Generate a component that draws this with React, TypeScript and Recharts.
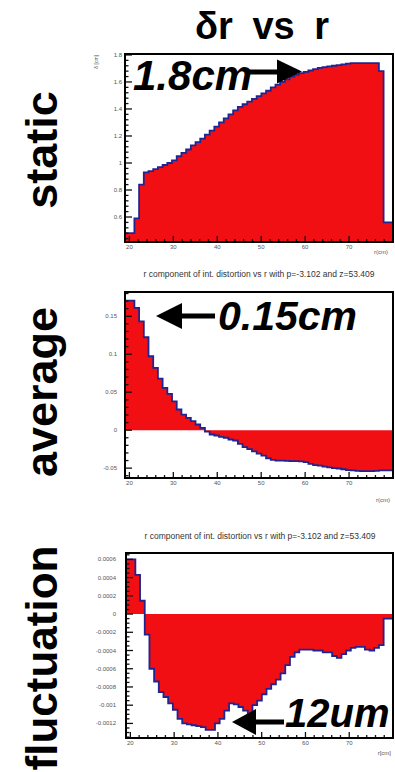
import React from "react";
import { ComposedChart, Area, XAxis, YAxis } from "recharts";

// histogram range (cm), 57 equal bins
const R_MIN = 19;
const R_MAX = 80;

const STATIC_DR = [
  0.48, 0.48, 0.59, 0.84, 0.93, 0.94, 0.955, 0.97, 0.985, 1.0,
  1.02, 1.05, 1.075, 1.1, 1.13, 1.155, 1.18, 1.21, 1.24, 1.27,
  1.3, 1.33, 1.36, 1.39, 1.415, 1.435, 1.455, 1.475, 1.495, 1.515,
  1.535, 1.56, 1.58, 1.6, 1.62, 1.64, 1.655, 1.665, 1.675, 1.685,
  1.695, 1.705, 1.71, 1.715, 1.72, 1.725, 1.73, 1.735, 1.74, 1.74,
  1.74, 1.74, 1.74, 1.74, 1.68, 0.56, 0.56,
];

const AVERAGE_DR = [
  0.1706, 0.1706, 0.161, 0.1434, 0.1224, 0.0974, 0.082, 0.068, 0.0557, 0.0478,
  0.038, 0.0272, 0.0206, 0.0162, 0.0118, 0.0075, 0.003, -0.002, -0.0057, -0.007,
  -0.0088, -0.01, -0.0123, -0.0136, -0.018, -0.0224, -0.025, -0.028, -0.031, -0.0335,
  -0.037, -0.039, -0.04, -0.0402, -0.0405, -0.0408, -0.0408, -0.041, -0.042, -0.0445,
  -0.046, -0.0468, -0.048, -0.049, -0.05, -0.0505, -0.0515, -0.0525, -0.053, -0.0535,
  -0.054, -0.054, -0.054, -0.0535, -0.053, -0.053, -0.053,
];

const FLUCT_DR = [
  0.0006, 0.0006, 0.00043, 0.000146, -0.000226, -0.0006, -0.00074, -0.000856, -0.00091, -0.00098,
  -0.00105, -0.00115, -0.0012, -0.00121, -0.00122, -0.00123, -0.00124, -0.00127, -0.00127, -0.0012,
  -0.00115, -0.00106, -0.00098, -0.00099, -0.00102, -0.00106, -0.0011, -0.001, -0.00095, -0.00088,
  -0.00082, -0.00077, -0.00072, -0.00065, -0.00056, -0.00047, -0.00042, -0.00039, -0.00039, -0.00039,
  -0.0004, -0.0004, -0.00042, -0.00042, -0.00046, -0.00048, -0.00044, -0.0004, -0.00037, -0.00036,
  -0.00036, -0.00039, -0.0004, -0.00037, -0.00034, -0.00005, -0.00005,
];

const R_TICKS = [20, 30, 40, 50, 60, 70];
const R_TICK_LABELS = ["20", "30", "40", "50", "60", "70"];

const STATIC_Y_TICKS = [0.6, 0.8, 1, 1.2, 1.4, 1.6, 1.8];
const STATIC_Y_LABELS = ["0.6", "0.8", "1", "1.2", "1.4", "1.6", "1.8"];
const AVERAGE_Y_TICKS = [-0.05, 0, 0.05, 0.1, 0.15];
const AVERAGE_Y_LABELS = ["-0.05", "0", "0.05", "0.1", "0.15"];
const FLUCT_Y_TICKS = [-0.0012, -0.001, -0.0008, -0.0006, -0.0004, -0.0002, 0, 0.0002, 0.0004, 0.0006];
const FLUCT_Y_LABELS = [
  "-0.0012", "-0.001", "-0.0008", "-0.0006", "-0.0004", "-0.0002", "0", "0.0002", "0.0004", "0.0006",
];

const PANEL_TITLE = "r component of int. distortion vs r with p=-3.102 and z=53.409";

const FONT = "'Liberation Sans', Arial, Helvetica, sans-serif";
const FILL = "#f20f14";
const LINE = "#1f248f";

// chart box shared by the three pads
const CHART_W = 395;
const CHART_H = 220;
const M_TOP = 10;
const M_RIGHT = 2;
const Y_AXIS_W = 40;
const X_AXIS_H = 20;
const FRAME_W = 2;

// pad placement: top of chart box, left margin, bottom margin
const PADS = [
  { top: 44, marginLeft: 85, marginBottom: 2 },
  { top: 282, marginLeft: 85, marginBottom: 4 },
  { top: 543, marginLeft: 86, marginBottom: 5 },
];

const plotBox = (p: { top: number; marginLeft: number; marginBottom: number }) => {
  const x = p.marginLeft + Y_AXIS_W;
  return {
    x,
    y: p.top + M_TOP,
    w: CHART_W - M_RIGHT - x,
    h: CHART_H - M_TOP - p.marginBottom - X_AXIS_H,
  };
};

// bin values -> stepAfter points (left edges + closing right edge)
const toSteps = (vals: number[]) => {
  const w = (R_MAX - R_MIN) / vals.length;
  const pts = vals.map((v, i) => ({ r: R_MIN + i * w, v }));
  pts.push({ r: R_MAX, v: vals[vals.length - 1] });
  return pts;
};

// majors plus ROOT-like minor ticks inside [lo, hi]
const withMinors = (majors: number[], div: number, lo: number, hi: number) => {
  const step = (majors[1] - majors[0]) / div;
  const out: number[] = [];
  const start = majors[0] - Math.floor((majors[0] - lo) / step + 1e-6) * step;
  for (let k = 0; start + k * step <= hi + step * 1e-6; k++) {
    out.push(+(start + k * step).toPrecision(10));
  }
  return out;
};

const makeYTick = (majors: number[], labels: string[], gap: number) => (props: any) => {
  const { x, y, payload } = props;
  const idx = majors.findIndex((m) => Math.abs(m - payload.value) < 1e-9);
  const major = idx >= 0;
  return (
    <g>
      <line x1={x} x2={x + (major ? 7 : 3.5)} y1={y} y2={y} stroke="#111" strokeWidth={1.3} />
      {major && (
        <text x={x - gap} y={y + 2} textAnchor="end" fontSize={6} fill="#555" fontFamily={FONT}>
          {labels[idx]}
        </text>
      )}
    </g>
  );
};

const xTick = (props: any) => {
  const { x, y, payload } = props;
  const idx = R_TICKS.findIndex((m) => Math.abs(m - payload.value) < 1e-9);
  const major = idx >= 0;
  return (
    <g>
      <line x1={x} x2={x} y1={y} y2={y - (major ? 6 : 3)} stroke="#111" strokeWidth={1.3} />
      {major && (
        <text x={x} y={y + 7} textAnchor="middle" fontSize={6} fill="#555" fontFamily={FONT}>
          {R_TICK_LABELS[idx]}
        </text>
      )}
    </g>
  );
};

interface PanelProps {
  top: number;
  values: number[];
  yDomain: [number, number];
  yMajors: number[];
  yLabels: string[];
  yDiv: number;
  labelGap: number;
  marginLeft: number;
  marginBottom: number;
}

const Panel: React.FC<PanelProps> = ({
  top, values, yDomain, yMajors, yLabels, yDiv, labelGap, marginLeft, marginBottom,
}) => {
  const data = toSteps(values);
  const yTicks = withMinors(yMajors, yDiv, yDomain[0], yDomain[1]);
  const xTicks = withMinors(R_TICKS, 5, R_MIN, R_MAX - 1);
  return (
    <div style={{ position: "absolute", left: 0, top, width: CHART_W, height: CHART_H }}>
      <ComposedChart
        width={CHART_W}
        height={CHART_H}
        data={data}
        margin={{ top: M_TOP, right: M_RIGHT, bottom: marginBottom, left: marginLeft }}
      >
        <Area
          type="stepAfter"
          dataKey="v"
          stroke={LINE}
          strokeWidth={1.8}
          fill={FILL}
          fillOpacity={1}
          dot={false}
          activeDot={false}
          isAnimationActive={false}
        />
        <XAxis
          type="number"
          dataKey="r"
          domain={[R_MIN, R_MAX]}
          allowDataOverflow
          ticks={xTicks}
          interval={0}
          tickSize={0}
          tickMargin={0}
          tickLine={false}
          axisLine={false}
          tick={xTick}
          height={X_AXIS_H}
        />
        <YAxis
          type="number"
          domain={yDomain}
          allowDataOverflow
          ticks={yTicks}
          interval={0}
          tickSize={0}
          tickMargin={0}
          tickLine={false}
          axisLine={false}
          tick={makeYTick(yMajors, yLabels, labelGap)}
          width={Y_AXIS_W}
        />
      </ComposedChart>
    </div>
  );
};

export default function App() {
  const h = FRAME_W / 2;
  return (
    <div
      style={{
        position: "absolute",
        left: 0,
        top: 0,
        width: 395,
        height: 772,
        background: "#fff",
        overflow: "hidden",
        fontFamily: FONT,
      }}
    >
      <Panel
        {...PADS[0]}
        values={STATIC_DR}
        yDomain={[0.415, 1.807]}
        yMajors={STATIC_Y_TICKS}
        yLabels={STATIC_Y_LABELS}
        yDiv={5}
        labelGap={3}
      />
      <Panel
        {...PADS[1]}
        values={AVERAGE_DR}
        yDomain={[-0.063, 0.182]}
        yMajors={AVERAGE_Y_TICKS}
        yLabels={AVERAGE_Y_LABELS}
        yDiv={5}
        labelGap={8}
      />
      <Panel
        {...PADS[2]}
        values={FLUCT_DR}
        yDomain={[-0.00136, 0.00067]}
        yMajors={FLUCT_Y_TICKS}
        yLabels={FLUCT_Y_LABELS}
        yDiv={4}
        labelGap={10}
      />

      {/* frames, titles, side labels and hand-drawn annotations */}
      <svg
        width={395}
        height={772}
        style={{ position: "absolute", left: 0, top: 0, pointerEvents: "none" }}
        fontFamily={FONT}
      >
        {PADS.map((p, i) => {
          const b = plotBox(p);
          return (
            <g key={i}>
              <rect x={b.x - h} y={b.y - h} width={b.w + FRAME_W} height={FRAME_W} fill="#000" />
              <rect x={b.x - h} y={b.y + b.h - h} width={b.w + FRAME_W} height={FRAME_W} fill="#000" />
              <rect x={b.x - h} y={b.y - h} width={FRAME_W} height={b.h + FRAME_W} fill="#000" />
              <rect x={b.x + b.w - h} y={b.y - h} width={FRAME_W} height={b.h + FRAME_W} fill="#000" />
            </g>
          );
        })}

        <text x={262} y={39} textAnchor="middle" fontSize={38} fontWeight="bold" wordSpacing={9}>
          δr vs r
        </text>

        <text transform="translate(57,150) rotate(-90)" textAnchor="middle" fontSize={45} fontWeight="bold">
          static
        </text>
        <text transform="translate(57,392) rotate(-90)" textAnchor="middle" fontSize={45} fontWeight="bold">
          average
        </text>
        <text transform="translate(57,658) rotate(-90)" textAnchor="middle" fontSize={44} fontWeight="bold">
          fluctuation
        </text>

        <text transform="translate(98,55) rotate(-90)" textAnchor="end" fontSize={5} fill="#555">
          δ [cm]
        </text>
        <text x={259} y={277} textAnchor="middle" fontSize={8.5} fill="#333">
          {PANEL_TITLE}
        </text>
        <text x={260} y={539} textAnchor="middle" fontSize={8.5} fill="#333">
          {PANEL_TITLE}
        </text>
        <text x={388} y={254} textAnchor="end" fontSize={6} fill="#555">r(cm)</text>
        <text x={390} y={502} textAnchor="end" fontSize={6} fill="#555">r(cm)</text>
        <text x={391} y={755} textAnchor="end" fontSize={6} fill="#555">r[cm]</text>

        <text x={133} y={90} fontSize={42} fontWeight="bold" fontStyle="italic">1.8cm</text>
        <rect x={249} y={69.5} width={30} height={5} fill="#000" />
        <polygon points="277,59.5 302,71.5 277,83.5" fill="#000" />

        <text x={218} y={330} fontSize={41} fontWeight="bold" fontStyle="italic">0.15cm</text>
        <polygon points="156,316 182,303 182,329" fill="#000" />
        <rect x={181} y={313.5} width={34} height={5} fill="#000" />

        <text x={285} y={727} fontSize={40} fontWeight="bold" fontStyle="italic">12um</text>
        <polygon points="232,722 256,709 256,735" fill="#000" />
        <rect x={255} y={719.5} width={29} height={5} fill="#000" />
      </svg>
    </div>
  );
}
